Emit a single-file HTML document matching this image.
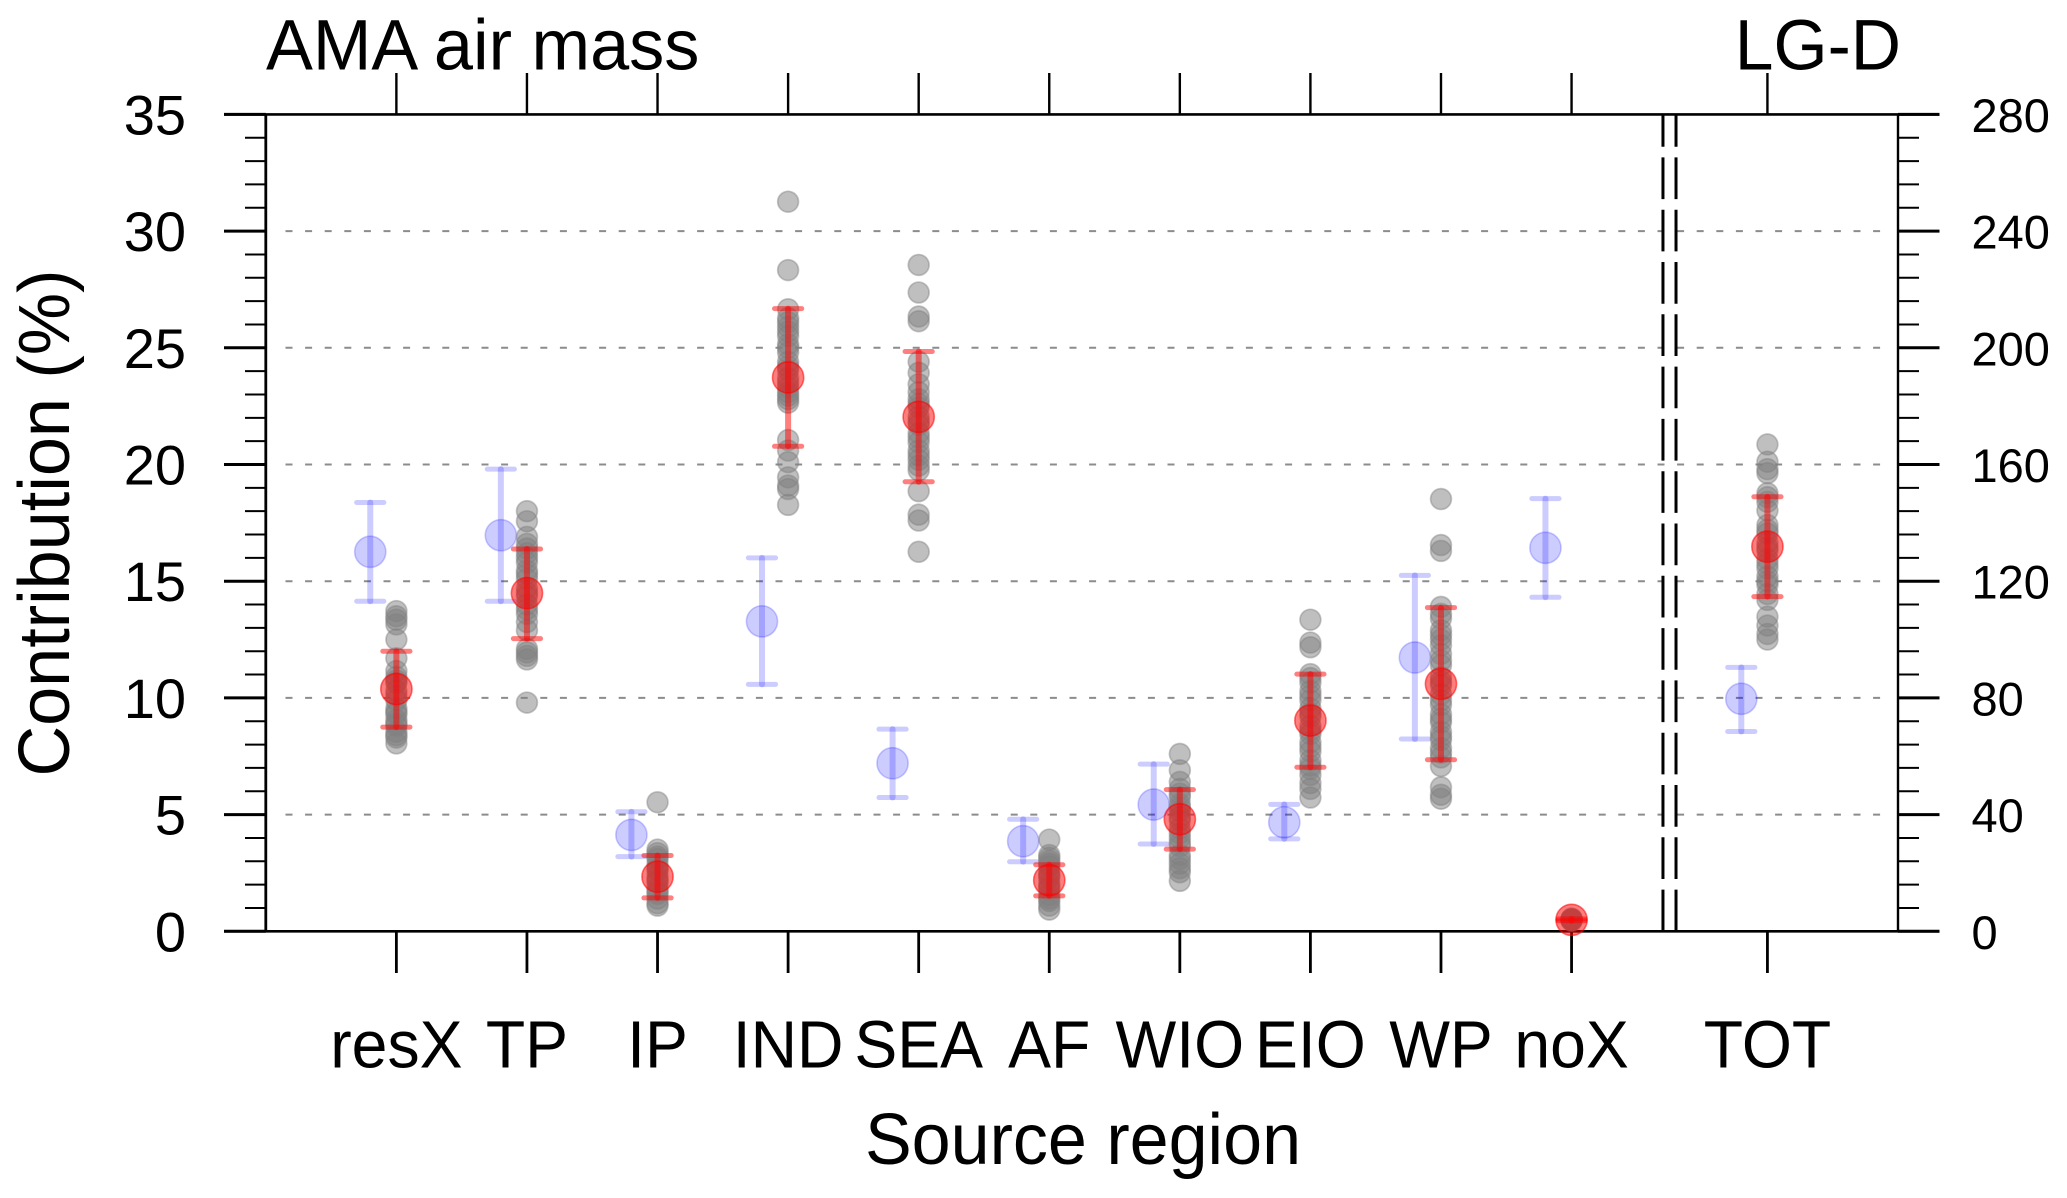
<!DOCTYPE html>
<html lang="en">
<head>
<meta charset="utf-8">
<title>AMA air mass contribution by source region</title>
<style>
  html, body { margin: 0; padding: 0; background: #fff; }
  svg { display: block; }
  text { font-family: "Liberation Sans", Arial, sans-serif; fill: #000; }
</style>
</head>
<body>
<svg id="chart" xmlns="http://www.w3.org/2000/svg" width="2067" height="1198" viewBox="0 0 2067 1198"></svg>
<script>
// ---- data (axis units) ----
const regionLabels = ['resX','TP','IP','IND','SEA','AF','WIO','EIO','WP','noX','TOT'];
const regionX = [1,2,3,4,5,6,7,8,9,10,11.5];
const separatorX = [10.7,10.8];
const blueOffset = -0.2;
const leftTickLabels = [0,5,10,15,20,25,30,35];
const rightTickLabels = [0,40,80,120,160,200,240,280];
const gridValues = [5,10,15,20,25,30];

const blueMean  = [16.26,16.97,4.13,13.28,7.2,3.86,5.43,4.67,11.73,16.43,9.96];
const blueUpper = [18.37,19.8,5.12,16.0,8.66,4.8,7.16,5.44,15.25,18.54,11.31];
const blueLower = [14.14,14.14,3.2,10.58,5.73,2.98,3.74,3.96,8.24,14.31,8.56];

const redMean  = [10.38,14.49,2.34,23.73,22.04,2.19,4.8,9.03,10.6,0.49,16.48];
const redUpper = [12.0,16.38,3.25,26.68,24.84,2.85,6.07,11.02,13.87,0.53,18.62];
const redLower = [8.75,12.54,1.43,20.78,19.26,1.52,3.52,7.03,7.35,0.45,14.34];

const ensembleResX = [13.72,13.5,13.35,13.15,12.5,11.7,11.15,10.9,10.75,10.65,10.3,10.1,9.9,9.55,9.4,9.3,9.05,8.9,8.8,8.55,8.4,8.3,8.05];
const ensembleTP = [18.0,17.57,16.9,16.6,16.4,16.2,16.0,15.8,15.45,15.3,15.1,14.7,14.5,14.35,14.0,13.8,13.6,13.25,12.9,12.1,11.95,11.8,11.65,9.8];
const ensembleIP = [5.53,3.5,3.35,3.2,3.1,2.85,2.7,2.6,2.35,2.2,2.1,1.85,1.7,1.6,1.4,1.2,1.1];
const ensembleIND = [31.26,28.33,26.65,26.27,26.1,25.9,25.7,25.5,25.15,25.0,24.8,24.4,24.2,24.05,23.7,23.5,23.3,23.1,22.95,22.8,22.65,21.05,20.6,20.1,19.45,19.1,18.95,18.27];
const ensembleSEA = [28.55,27.37,26.34,26.14,24.4,23.93,23.44,23.1,22.8,22.6,22.45,22.05,21.85,21.7,21.35,21.15,20.95,20.6,20.4,20.2,19.95,19.75,18.86,17.85,17.6,16.26];
const ensembleAF = [3.93,3.27,3.15,3.02,2.9,2.78,2.55,2.4,2.3,2.05,1.9,1.8,1.55,1.4,1.3,1.1,0.93];
const ensembleWIO = [7.6,6.9,6.4,6.1,5.9,5.75,5.45,5.3,5.15,4.9,4.75,4.4,4.2,4.0,3.8,3.65,3.27,3.1,2.9,2.7,2.53,2.16];
const ensembleEIO = [13.35,12.37,12.17,11.02,10.85,10.65,10.3,10.1,9.9,9.55,9.35,9.2,8.8,8.6,8.45,8.1,7.9,7.7,7.33,7.1,6.96,6.7,6.35,6.1,5.73];
const ensembleWP = [18.52,16.55,16.3,13.9,13.6,13.4,12.9,12.7,12.5,12.25,11.88,11.6,11.4,10.9,10.7,10.55,10.15,9.9,9.7,9.3,9.1,8.95,8.55,8.35,8.2,7.85,7.65,7.45,7.08,6.17,5.85,5.68];
const ensembleNoX = [0.55,0.52,0.5,0.48,0.45];
const ensembleTOT = [20.86,20.12,19.8,19.63,18.77,18.6,18.4,18.03,17.41,17.2,17.05,16.65,16.45,16.3,15.95,15.75,15.55,15.2,15.0,14.85,14.45,14.2,13.48,13.1,12.74,12.5];
const ensembles = [ensembleResX,ensembleTP,ensembleIP,ensembleIND,ensembleSEA,ensembleAF,ensembleWIO,ensembleEIO,ensembleWP,ensembleNoX,ensembleTOT];

// ---- axes ----
const frame = { left: 265.8, right: 1898, top: 114.4, bottom: 931.3 };
const xMax = 12.5, yMax = 35, rightMax = 280;
function xScale(v) { return frame.left + v * (frame.right - frame.left) / xMax; }
function yScale(v) { return frame.bottom - v * (frame.bottom - frame.top) / yMax; }
function yScaleRight(v) { return frame.bottom - v * (frame.bottom - frame.top) / rightMax; }

const svg = document.getElementById('chart');
const NS = 'http://www.w3.org/2000/svg';
function make(tag, props) {
  const e = document.createElementNS(NS, tag);
  for (const k in props) e.setAttribute(k, props[k]);
  svg.appendChild(e);
  return e;
}
function line(x1, y1, x2, y2, stroke, width, extra) {
  return make('line', Object.assign({ x1, y1, x2, y2, stroke, 'stroke-width': width }, extra || {}));
}
function label(str, x, y, size, anchor, sx) {
  const t = make('text', { transform: 'translate(' + x + ',' + y + ') scale(' + sx + ',1)', 'font-size': size, 'text-anchor': anchor });
  t.textContent = str;
  return t;
}

// grid
gridValues.forEach(function (v) {
  const g = line(frame.left + 19.7, yScale(v), frame.right - 14, yScale(v), '#8c8c8c', 2, { 'stroke-dasharray': '7 12.6' });
  
  
});

// minor & major y ticks, left and right
for (let v = 0; v <= yMax; v++) {
  if (v % 5 === 0) continue;
  const l = line(245, yScale(v), frame.left, yScale(v), '#000', 2);
  
  
  const r = line(frame.right, yScale(v), 1919, yScale(v), '#000', 2);
  
  
}
leftTickLabels.forEach(function (v) {
  const t = line(224, yScale(v), frame.left, yScale(v), '#000', 3);
  
  
  const lab = label(String(v), 186, yScale(v) + 20, 56, 'end', 1);
  
  
});
rightTickLabels.forEach(function (v) {
  const t = line(frame.right, yScaleRight(v), 1939.5, yScaleRight(v), '#000', 3);
  
  
  const lab = label(String(v), 1971.5, yScaleRight(v) + 17.5, 47, 'start', 1);
  
  
});

// x ticks and labels
regionX.forEach(function (v, i) {
  const b = line(xScale(v), frame.bottom, xScale(v), 973, '#000', 2.8);
  
  
  const t = line(xScale(v), 73, xScale(v), frame.top, '#000', 2.4);
  
  
  const lab = label(regionLabels[i], xScale(v), 1067.3, 67, 'middle', 0.96);
  
  
});

// separator lines
separatorX.forEach(function (v) {
  const s = line(xScale(v), frame.bottom, xScale(v), frame.top, '#000', 3, { 'stroke-dasharray': '41.7 10.6' });
  
  
});

// frame
const fLeft = line(frame.left, frame.top, frame.left, frame.bottom, '#000', 2.8);


const fRight = line(frame.right, frame.top, frame.right, frame.bottom, '#000', 2.4);


const fTop = line(224, frame.top, 1939.5, frame.top, '#000', 2.6);


const fBottom = line(224, frame.bottom, 1939.5, frame.bottom, '#000', 2.6);



// error bar helper
function errorBar(x, upper, lower, color, opacity, nameBase) {
  const yu = yScale(upper), yl = yScale(lower);
  const stem = line(x, yu, x, yl, color, 6, { 'stroke-opacity': opacity, 'stroke-linecap': 'round' });
  
  
  const capU = line(x - 13.6, yu, x + 13.6, yu, color, 5, { 'stroke-opacity': opacity, 'stroke-linecap': 'round' });
  
  
  const capL = line(x - 13.6, yl, x + 13.6, yl, color, 5, { 'stroke-opacity': opacity, 'stroke-linecap': 'round' });
  
  
}

// blue series
regionX.forEach(function (v, i) {
  const x = xScale(v + blueOffset);
  errorBar(x, blueUpper[i], blueLower[i], '#0000ff', 0.2, 'blue-' + regionLabels[i]);
  const c = make('circle', { cx: x, cy: yScale(blueMean[i]), r: 15.6, fill: '#0000ff', 'fill-opacity': 0.2, stroke: '#0000ff', 'stroke-opacity': 0.2, 'stroke-width': 1.6 });
  
  
});

// gray ensemble members
ensembles.forEach(function (vals, i) {
  vals.forEach(function (val) {
    const c = make('circle', { cx: xScale(regionX[i]), cy: yScale(val), r: 10.4, fill: '#808080', 'fill-opacity': 0.5, stroke: '#808080', 'stroke-opacity': 0.45, 'stroke-width': 1.7 });
    
    
  });
});

// red series
regionX.forEach(function (v, i) {
  const x = xScale(v);
  errorBar(x, redUpper[i], redLower[i], '#ff0000', 0.5, 'red-' + regionLabels[i]);
  const c = make('circle', { cx: x, cy: yScale(redMean[i]), r: 15.6, fill: '#ff0000', 'fill-opacity': 0.5, stroke: '#ff0000', 'stroke-opacity': 0.55, 'stroke-width': 1.6 });
  
  
});

// titles
const leftTitle = label('AMA air mass', 266, 69.3, 71, 'start', 0.99);


const rightTitle = label('LG-D', 1901, 69.3, 71, 'end', 0.98);


const xTitle = label('Source region', 1083, 1164, 72, 'middle', 0.973);


const yTitle = make('text', { transform: 'translate(69,523) rotate(-90) scale(0.975,1)', 'font-size': 72, 'text-anchor': 'middle' });
yTitle.textContent = 'Contribution (%)';


</script>
</body>
</html>
